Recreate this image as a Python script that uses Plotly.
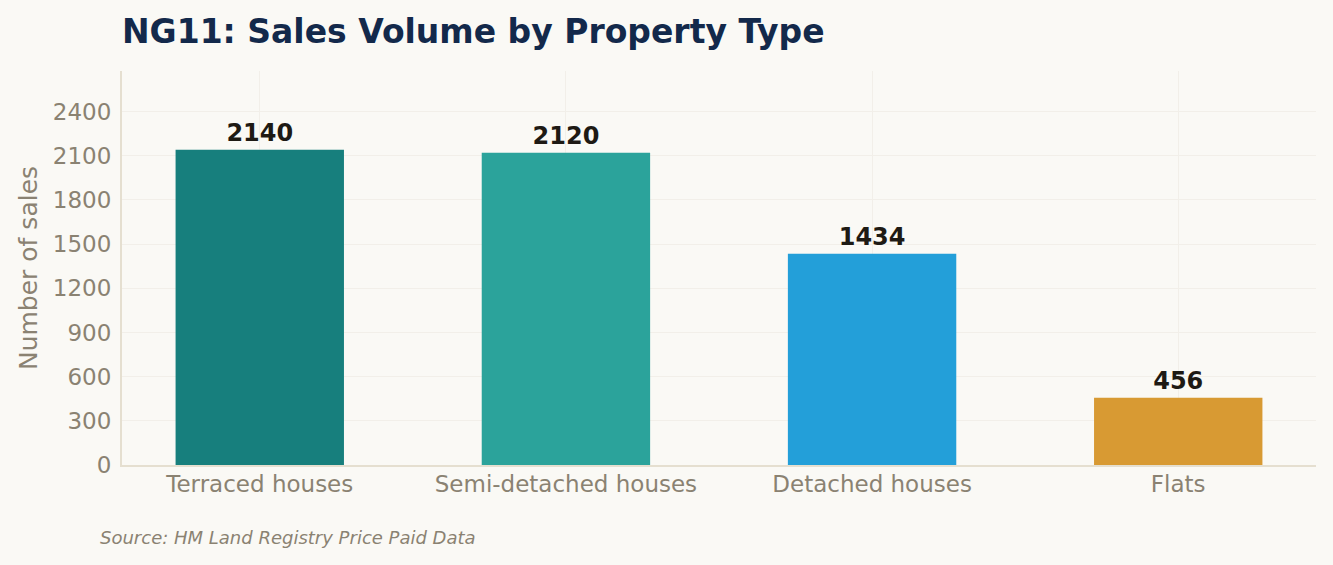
import plotly.graph_objects as go

property_types = ["Terraced houses", "Semi-detached houses", "Detached houses", "Flats"]
sales = [2140, 2120, 1434, 456]
bar_colors = ["#177F7D", "#2BA39B", "#239FD9", "#D89A33"]

fig = go.Figure()
fig.add_trace(go.Bar(
    x=property_types,
    y=sales,
    marker_color=bar_colors,
    marker_line_width=0,
    width=0.55,
    text=[str(v) for v in sales],
    textposition="outside",
    textfont=dict(family="DejaVu Sans", size=24, color="#1E1A14"),
    texttemplate="<b>%{text}</b>",
    cliponaxis=False,
))

fig.update_layout(
    width=1333,
    height=565,
    paper_bgcolor="#FAF9F5",
    plot_bgcolor="#FAF9F5",
    margin=dict(l=122, r=17, t=71, b=100),
    font=dict(family="DejaVu Sans", color="#8A8272"),
    title=dict(
        text="<b>NG11: Sales Volume by Property Type</b>",
        x=0.0915, xanchor="left", y=0.944, yanchor="middle",
        font=dict(size=33, color="#13294B"),
    ),
    showlegend=False,
    annotations=[dict(
        text="<i>Source: HM Land Registry Price Paid Data</i>",
        xref="paper", yref="paper", x=-0.0205, y=-0.183,
        xanchor="left", yanchor="middle", showarrow=False,
        font=dict(size=18, color="#8A8272"),
    )],
)
fig.update_xaxes(
    range=[-0.45, 3.45],
    showgrid=True, gridcolor="#F2EFE9",
    showline=True, linecolor="#E5DFD0", linewidth=2,
    tickfont=dict(size=23, color="#8A8272"),
    ticklabelstandoff=-3,
)
fig.update_yaxes(
    range=[0, 2675], dtick=300,
    showgrid=True, gridcolor="#F2EFE9",
    showline=True, linecolor="#E5DFD0", linewidth=2,
    zeroline=False,
    tickfont=dict(size=23, color="#8A8272"),
    ticklabelstandoff=4,
    title=dict(text="Number of sales", standoff=8,
               font=dict(size=25, color="#8A8272")),
)

fig.write_html("out.html", config={"displayModeBar": False},
               post_script="document.body.style.margin='0';")
